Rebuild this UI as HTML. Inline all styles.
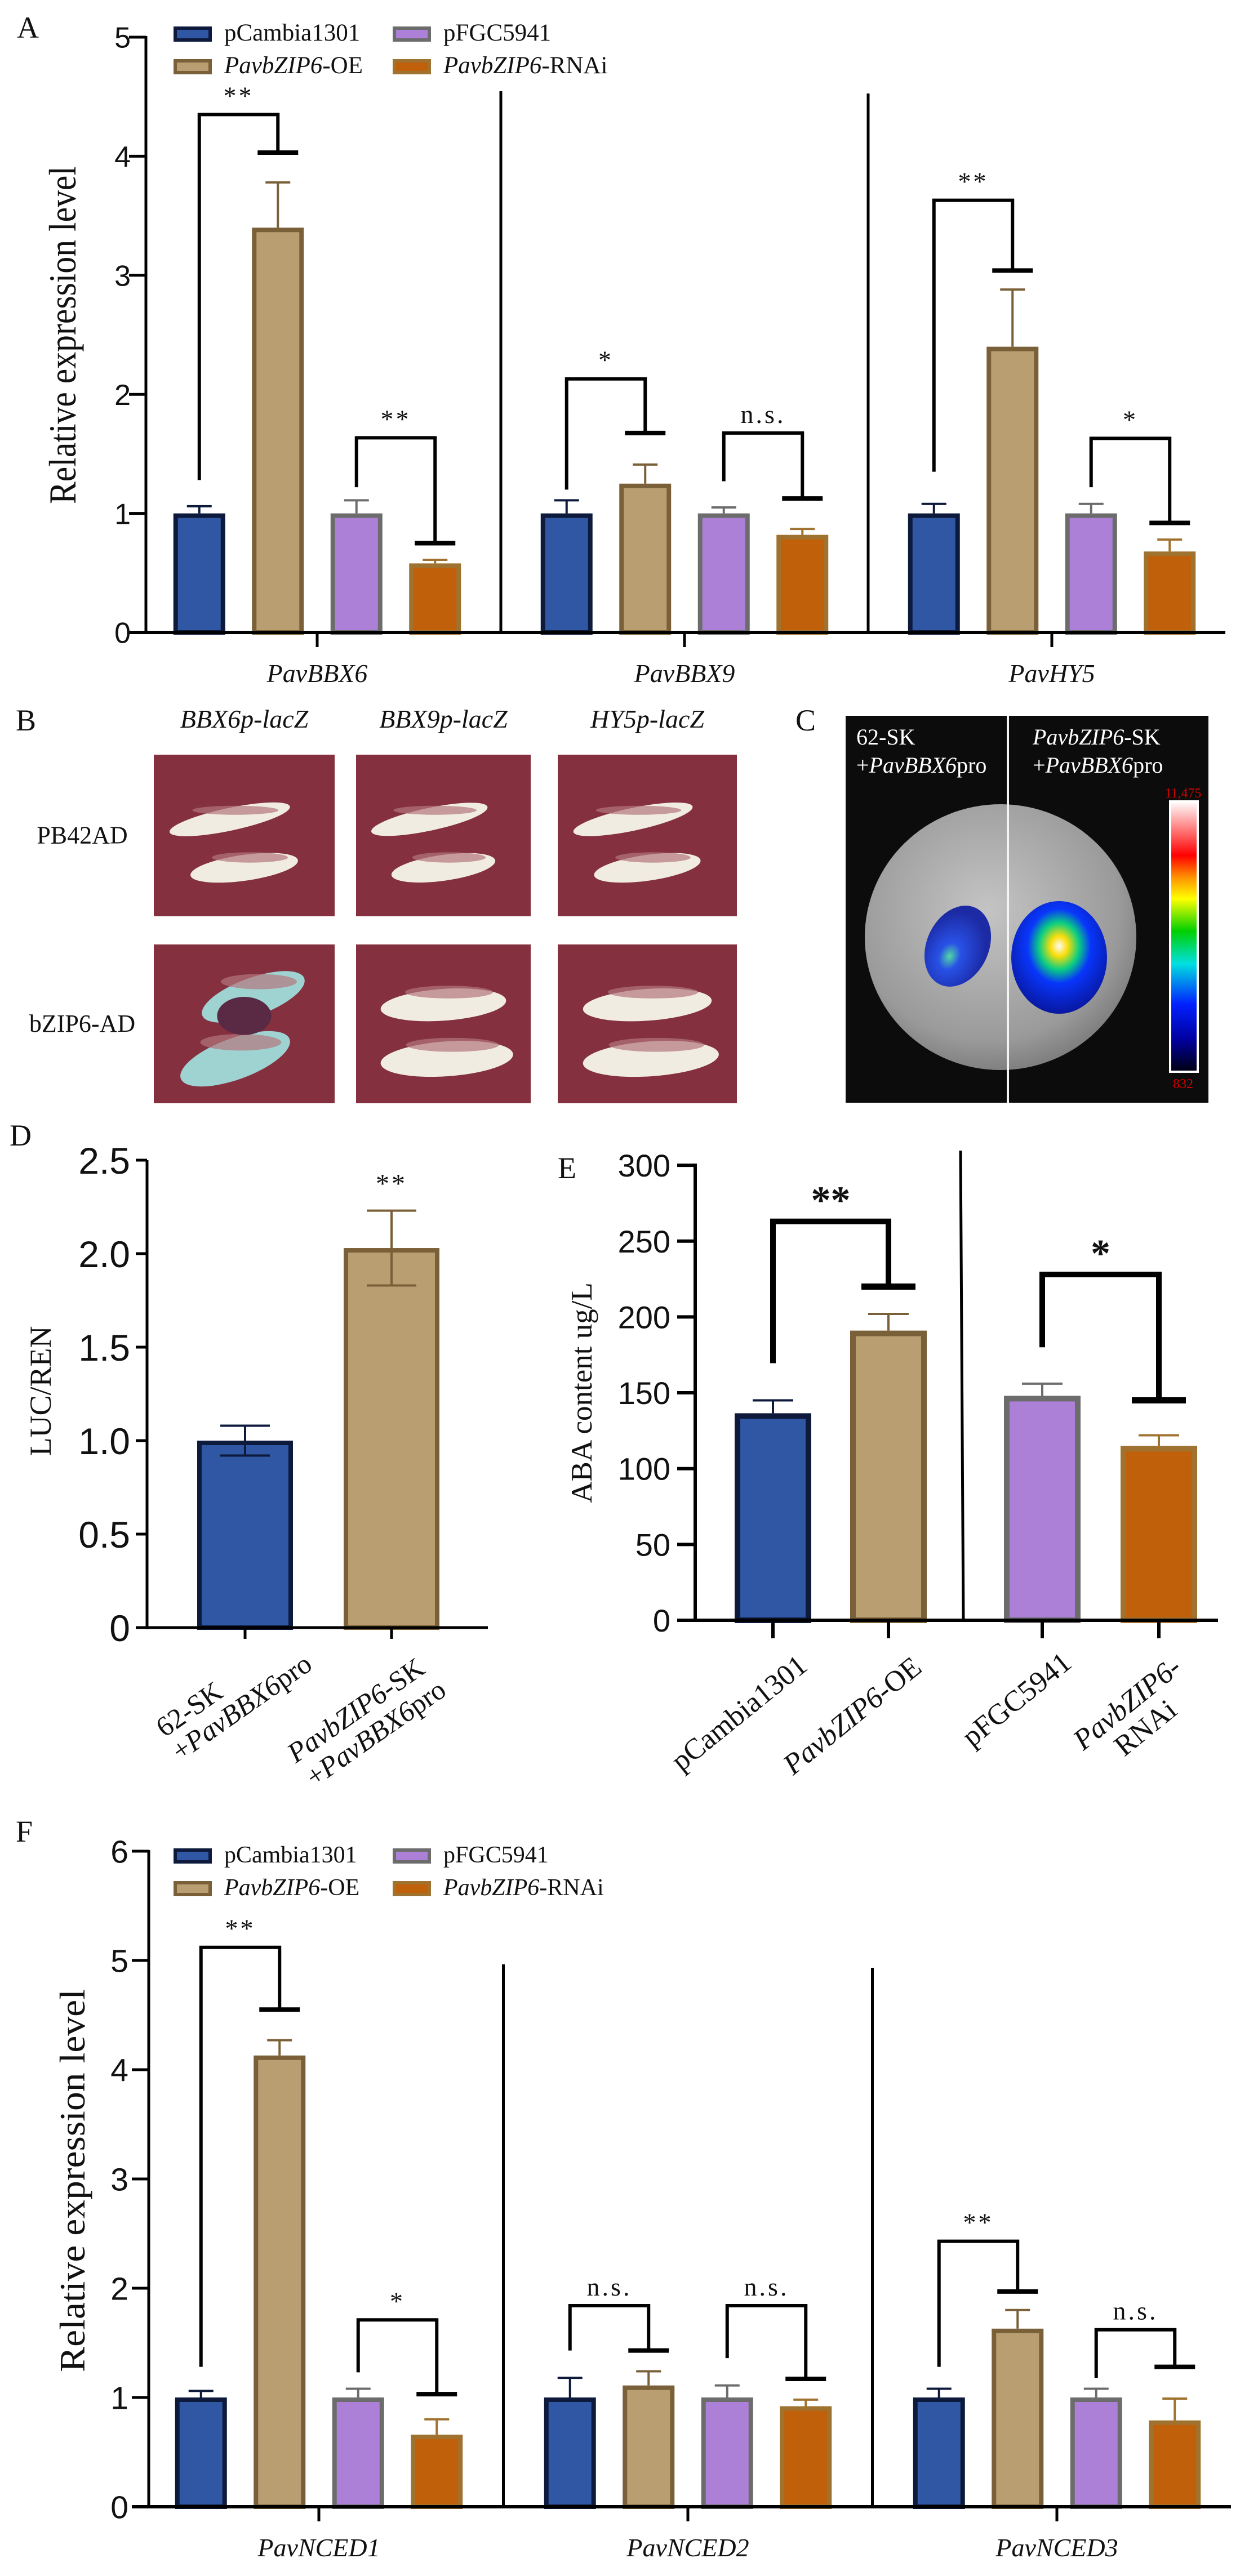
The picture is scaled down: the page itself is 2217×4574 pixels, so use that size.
<!DOCTYPE html>
<html><head><meta charset="utf-8"><style>
html,body{margin:0;padding:0;background:#fff;}
svg{display:block;}
text{font-family:"Liberation Serif",serif;}
.sans{font-family:"Liberation Sans",sans-serif;}
</style></head><body>
<svg id="fig" width="2217" height="4574" viewBox="0 0 2217 4574" xmlns="http://www.w3.org/2000/svg">
<defs>
<linearGradient id="cbar" x1="0" y1="1" x2="0" y2="0">
<stop offset="0" stop-color="#000010"/><stop offset="0.12" stop-color="#0000a0"/><stop offset="0.25" stop-color="#0020ff"/><stop offset="0.4" stop-color="#00e0e0"/><stop offset="0.52" stop-color="#00d000"/><stop offset="0.64" stop-color="#ffff00"/><stop offset="0.72" stop-color="#ff9000"/><stop offset="0.8" stop-color="#ff0000"/><stop offset="1" stop-color="#ffffff"/>
</linearGradient>
<radialGradient id="leafg" cx="0.45" cy="0.4" r="0.7"><stop offset="0" stop-color="#c4c4c4"/><stop offset="0.7" stop-color="#9a9a9a"/><stop offset="1" stop-color="#6a6a6a"/></radialGradient>
<radialGradient id="lucR" cx="0.5" cy="0.4" r="0.6"><stop offset="0" stop-color="#ffffff"/><stop offset="0.15" stop-color="#ffe000"/><stop offset="0.35" stop-color="#00d080"/><stop offset="0.55" stop-color="#0030ff"/><stop offset="1" stop-color="#0010a0"/></radialGradient>
<radialGradient id="lucL" cx="0.45" cy="0.65" r="0.55"><stop offset="0" stop-color="#40e0a0"/><stop offset="0.3" stop-color="#1040f0"/><stop offset="1" stop-color="#0010a0"/></radialGradient>
</defs>
<g id="root"></g>
</svg>
<script>
// ---------- DATA: panel A ----------
const genesA = ['PavBBX6','PavBBX9','PavHY5'];
const a_pc = [1, 1, 1];
const a_pc_err = [0.06, 0.11, 0.08];
const a_oe = [3.4, 1.25, 2.4];
const a_oe_err = [0.38, 0.16, 0.48];
const a_fg = [1, 1, 1];
const a_fg_err = [0.11, 0.05, 0.08];
const a_ri = [0.58, 0.82, 0.68];
const a_ri_err = [0.03, 0.05, 0.1];
const a_sig1 = ['**', '*', '**'];
const a_sig1_top = [4.35, 2.13, 3.63];
const a_sig1_cap = [4.03, 1.675, 3.04];
const a_sig1_low = [1.28, 1.2, 1.35];
const a_sig2 = ['**', 'n.s.', '*'];
const a_sig2_top = [1.635, 1.675, 1.63];
const a_sig2_cap = [0.75, 1.125, 0.92];
const a_sig2_low = [1.22, 1.27, 1.22];
const a_ticks = [0, 1, 2, 3, 4, 5];
// ---------- DATA: panel D ----------
const d_cats = ['62-SK', 'PavbZIP6-SK'];
const d_vals = [1.0, 2.03];
const d_err = [0.08, 0.2];
const d_sig = ['', '**'];
const d_ticks = ['0','0.5','1.0','1.5','2.0','2.5'];
const d_tickv = [0, 0.5, 1, 1.5, 2, 2.5];
// ---------- DATA: panel E ----------
const e_cats = ['pCambia1301', 'PavbZIP6-OE', 'pFGC5941', 'PavbZIP6-RNAi'];
const e_vals = [136.5, 191, 148, 115];
const e_err = [8.5, 11, 8, 7];
const e_sig = ['**', '*'];
const e_sig_top = [263, 228];
const e_sig_cap = [220, 145];
const e_sig_low = [169.5, 180];
const e_ticks = [0, 50, 100, 150, 200, 250, 300];
// ---------- DATA: panel F ----------
const genesF = ['PavNCED1','PavNCED2','PavNCED3'];
const f_pc = [1, 1, 1];
const f_pc_err = [0.06, 0.18, 0.08];
const f_oe = [4.13, 1.11, 1.63];
const f_oe_err = [0.14, 0.13, 0.17];
const f_fg = [1, 1, 1];
const f_fg_err = [0.08, 0.11, 0.08];
const f_ri = [0.66, 0.92, 0.79];
const f_ri_err = [0.14, 0.06, 0.2];
const f_sig1 = ['**', 'n.s.', '**'];
const f_sig1_top = [5.12, 1.84, 2.43];
const f_sig1_cap = [4.55, 1.43, 1.97];
const f_sig1_low = [1.28, 1.43, 1.28];
const f_sig2 = ['*', 'n.s.', 'n.s.'];
const f_sig2_top = [1.71, 1.84, 1.62];
const f_sig2_cap = [1.03, 1.17, 1.28];
const f_sig2_low = [1.23, 1.36, 1.18];
const f_ticks = [0, 1, 2, 3, 4, 5, 6];

const NS = 'http://www.w3.org/2000/svg';
const root = document.getElementById('root');
function mk(tag, attrs, parent) {
  const e = document.createElementNS(NS, tag);
  for (const k in attrs) e.setAttribute(k, attrs[k]);
  (parent || root).appendChild(e);
  return e;
}
function txt(str, attrs, parent) { const t = mk('text', attrs, parent); t.textContent = str; return t; }
const FILL = ['#2f57a3', '#b89e70', '#ad80d8', '#c0600a'];
const EDGE = ['#0e1a3c', '#7a6038', '#6c6c6c', '#a07230'];
const SERIES = ['pCambia1301', 'PavbZIP6-OE', 'pFGC5941', 'PavbZIP6-RNAi'];

function italicLabel(parent, x, y, parts, attrs) {
  const t = mk('text', attrs, parent);
  t.setAttribute('x', x); t.setAttribute('y', y);
  parts.forEach(p => { const s = mk('tspan', p[1] ? {'font-style':'italic'} : {}, t); s.textContent = p[0]; });
  return t;
}

function legend(y0, fs) {
  const g = mk('g', {});
  
  
  const pos = [[308, y0], [308, y0 + 58], [697, y0], [697, y0 + 58]];
  const lbl = [[['pCambia1301',0]], [['PavbZIP6',1],['-OE',0]], [['pFGC5941',0]], [['PavbZIP6',1],['-RNAi',0]]];
  for (let s = 0; s < 4; s++) {
    const r = mk('rect', {x: pos[s][0] + 3, y: pos[s][1] + 3, width: 62, height: 21, fill: FILL[s], stroke: EDGE[s], 'stroke-width': 6}, g);
    
    
    const t = italicLabel(g, pos[s][0] + 90, pos[s][1] + 25, lbl[s], {'font-size': fs, fill: '#111'});
    
    
  }
}

function groupedChart(cfg) {
  const g = mk('g', {});
  
  
  const y = v => cfg.y0 - v * cfg.unit;
  const gx = i => cfg.g0 + i * cfg.gstep;
  const bx = (i, s) => gx(i) + (s - 1.5) * 139.5;
  const series = [cfg.pc, cfg.oe, cfg.fg, cfg.ri];
  const errs = [cfg.pc_err, cfg.oe_err, cfg.fg_err, cfg.ri_err];
  for (let i = 1; i < cfg.genes.length; i++) {
    const xs = (gx(i - 1) + gx(i)) / 2;
    const l = mk('line', {x1: xs, x2: xs, y1: cfg.sepTop[i - 1], y2: cfg.y0, stroke: '#000', 'stroke-width': 5}, g);
    
    
  }
  for (let i = 0; i < cfg.genes.length; i++) {
    for (let s = 0; s < 4; s++) {
      const cx = bx(i, s), v = series[s][i], e = errs[s][i];
      const el = mk('line', {x1: cx, x2: cx, y1: y(v), y2: y(v + e), stroke: EDGE[s], 'stroke-width': 4}, g);
      
      
      const ec = mk('line', {x1: cx - 22, x2: cx + 22, y1: y(v + e), y2: y(v + e), stroke: EDGE[s], 'stroke-width': 4}, g);
      
      
      const r = mk('rect', {x: cx - 42, y: y(v) + 4, width: 84, height: Math.max(0, cfg.y0 - y(v) - 4), fill: FILL[s], stroke: EDGE[s], 'stroke-width': 8}, g);
      
      
    }
    const pairs = [[0, 1, cfg.s1, cfg.s1_top, cfg.s1_cap, cfg.s1_low], [2, 3, cfg.s2, cfg.s2_top, cfg.s2_cap, cfg.s2_low]];
    pairs.forEach(p => {
      const xa = bx(i, p[0]), xb = bx(i, p[1]);
      const pl = mk('polyline', {points: `${xa},${y(p[5][i])} ${xa},${y(p[3][i])} ${xb},${y(p[3][i])} ${xb},${y(p[4][i])}`, fill: 'none', stroke: '#000', 'stroke-width': 6}, g);
      
      
      const cap = mk('line', {x1: xb - 36, x2: xb + 36, y1: y(p[4][i]), y2: y(p[4][i]), stroke: '#000', 'stroke-width': 8}, g);
      
      
      const st = txt(p[2][i], {x: (xa + xb) / 2, y: y(p[3][i]) - 18, 'text-anchor': 'middle', 'font-size': 46, fill: '#111', 'letter-spacing': 4}, g);
      
      
    });
    const tk = mk('line', {x1: gx(i), x2: gx(i), y1: cfg.y0, y2: cfg.y0 + 26, stroke: '#000', 'stroke-width': 5}, g);
    
    
    const gl = txt(cfg.genes[i], {x: gx(i), y: cfg.y0 + 88, 'text-anchor': 'middle', 'font-size': 46, 'font-style': 'italic', fill: '#111'}, g);
    
    
  }
  const ya = mk('line', {x1: cfg.ax, x2: cfg.ax, y1: y(cfg.ticks[cfg.ticks.length - 1]) - 2, y2: cfg.y0 + 3, stroke: '#000', 'stroke-width': 5}, g);
  
  
  const xa = mk('line', {x1: cfg.ax - 30, x2: cfg.xEnd, y1: cfg.y0, y2: cfg.y0, stroke: '#000', 'stroke-width': 6}, g);
  
  
  cfg.ticks.forEach(t => {
    const tl = mk('line', {x1: cfg.ax - 30, x2: cfg.ax, y1: y(t), y2: y(t), stroke: '#000', 'stroke-width': 5}, g);
    
    
    const tt = txt(String(t), {x: cfg.ax - cfg.tickGap, y: y(t) + cfg.tickFs * 0.36, 'text-anchor': 'end', 'font-size': cfg.tickFs, class: 'sans', fill: '#111'}, g);
    
    
  });
  const yt = txt('Relative expression level', {x: 0, y: 0, 'text-anchor': 'middle', 'font-size': cfg.titleFs, textLength: cfg.titleLen, lengthAdjust: 'spacingAndGlyphs', fill: '#111', transform: `translate(${cfg.titleX},${cfg.titleY}) rotate(-90)`}, g);
  
  
}

[['A', 30, 67], ['B', 28, 1297], ['C', 1412, 1297], ['D', 17, 2034], ['E', 990, 2092], ['F', 28, 3270]].forEach(p => {
  const t = txt(p[0], {x: p[1], y: p[2], 'font-size': 54, fill: '#111'});
  
  
});

// Panel A
legend(47, 43);
groupedChart({name: 'panel-a-chart', genes: genesA, pc: a_pc, pc_err: a_pc_err, oe: a_oe, oe_err: a_oe_err, fg: a_fg, fg_err: a_fg_err, ri: a_ri, ri_err: a_ri_err,
  s1: a_sig1, s1_top: a_sig1_top, s1_cap: a_sig1_cap, s1_low: a_sig1_low, s2: a_sig2, s2_top: a_sig2_top, s2_cap: a_sig2_cap, s2_low: a_sig2_low,
  ticks: a_ticks, y0: 1123, unit: 211.4, g0: 563, gstep: 652, ax: 259, xEnd: 2175, sepTop: [162, 166],
  tickFs: 52, tickGap: 27, titleFs: 68, titleLen: 600, titleX: 134, titleY: 595});

// Panel B photos
const bCols = [[273, 594], [632, 942], [990, 1308]];
const bRows = [[1340, 1627], [1677, 1959]];
const bHeads = ['BBX6p-lacZ', 'BBX9p-lacZ', 'HY5p-lacZ'];
bHeads.forEach((h, i) => {
  const t = txt(h, {x: (bCols[i][0] + bCols[i][1]) / 2, y: 1292, 'text-anchor': 'middle', 'font-size': 46, 'font-style': 'italic', fill: '#111'});
  
  
});
['PB42AD', 'bZIP6-AD'].forEach((h, i) => {
  const t = txt(h, {x: 146, y: (bRows[i][0] + bRows[i][1]) / 2 + 14, 'text-anchor': 'middle', 'font-size': 44, fill: '#111'});
  
  
});
for (let r = 0; r < 2; r++) for (let c = 0; c < 3; c++) {
  const x0 = bCols[c][0], x1 = bCols[c][1], y0 = bRows[r][0], y1 = bRows[r][1];
  const w = x1 - x0, h = y1 - y0;
  const g = mk('g', {});
  
  
  mk('rect', {x: x0, y: y0, width: w, height: h, fill: '#84303f'}, g);
  const blue = (r === 1 && c === 0);
  const col = blue ? '#9fd3d2' : '#f1ece2';
  let blobs;
  if (r === 0) blobs = [[0.42, 0.4, 0.34, 0.07, -12], [0.5, 0.7, 0.3, 0.08, -8]];
  else blobs = [[0.5, 0.38, 0.36, 0.1, -4], [0.52, 0.72, 0.38, 0.11, -4]];
  if (blue) blobs = [[0.55, 0.33, 0.3, 0.12, -20], [0.45, 0.72, 0.32, 0.13, -20]];
  blobs.forEach(b => {
    mk('ellipse', {cx: x0 + b[0] * w, cy: y0 + b[1] * h, rx: b[2] * w, ry: b[3] * h, fill: col, transform: `rotate(${b[4]} ${x0 + b[0] * w} ${y0 + b[1] * h})`}, g);
    mk('ellipse', {cx: x0 + b[0] * w + 10, cy: y0 + b[1] * h - b[3] * h * 0.8, rx: b[2] * w * 0.7, ry: b[3] * h * 0.4, fill: '#b4767e', opacity: 0.7}, g);
  });
  if (blue) mk('ellipse', {cx: x0 + 0.5 * w, cy: y0 + 0.45 * h, rx: 0.15 * w, ry: 0.12 * h, fill: '#5a2a44'}, g);
}

// Panel C
(function () {
  const g = mk('g', {});
  
  
  mk('rect', {x: 1501, y: 1271, width: 644, height: 687, fill: '#0c0c0c'}, g);
  mk('ellipse', {cx: 1776, cy: 1664, rx: 241, ry: 236, fill: 'url(#leafg)'}, g);
  mk('ellipse', {cx: 1700, cy: 1680, rx: 55, ry: 75, fill: 'url(#lucL)', opacity: 0.85, transform: 'rotate(25 1700 1680)'}, g);
  mk('ellipse', {cx: 1880, cy: 1700, rx: 85, ry: 100, fill: 'url(#lucR)', opacity: 0.95}, g);
  mk('line', {x1: 1789, x2: 1789, y1: 1271, y2: 1958, stroke: '#f4f4f4', 'stroke-width': 4}, g);
  mk('rect', {x: 2077, y: 1423, width: 49, height: 480, fill: 'url(#cbar)', stroke: '#fff', 'stroke-width': 4}, g);
  const t1 = txt('11,475', {x: 2100, y: 1416, 'text-anchor': 'middle', 'font-size': 24, fill: '#d00000'}, g);
  
  
  const t2 = txt('832', {x: 2100, y: 1932, 'text-anchor': 'middle', 'font-size': 24, fill: '#d00000'}, g);
  
  
  const a1 = txt('62-SK', {x: 1520, y: 1322, 'font-size': 40, fill: '#fff'}, g);
  
  
  const a2 = italicLabel(g, 1520, 1372, [['+', 0], ['PavBBX6', 1], ['pro', 0]], {'font-size': 40, fill: '#fff'});
  
  
  const a3 = italicLabel(g, 1833, 1322, [['PavbZIP6', 1], ['-SK', 0]], {'font-size': 40, fill: '#fff'});
  
  
  const a4 = italicLabel(g, 1833, 1372, [['+', 0], ['PavBBX6', 1], ['pro', 0]], {'font-size': 40, fill: '#fff'});
  
  
})();

// Panel D
(function () {
  const g = mk('g', {});
  
  
  const y0 = 2890, unit = 332, ax = 261;
  const y = v => y0 - v * unit;
  const xs = [435, 695];
  d_vals.forEach((v, i) => {
    const e = d_err[i], cx = xs[i];
    const r = mk('rect', {x: cx - 81, y: y(v) + 4, width: 162, height: y0 - y(v) - 4, fill: FILL[i], stroke: EDGE[i], 'stroke-width': 8}, g);
    
    
    const l = mk('line', {x1: cx, x2: cx, y1: y(v - e), y2: y(v + e), stroke: EDGE[i], 'stroke-width': 4}, g);
    
    
    [v - e, v + e].forEach(ev => {
      const c = mk('line', {x1: cx - 44, x2: cx + 44, y1: y(ev), y2: y(ev), stroke: EDGE[i], 'stroke-width': 4}, g);
      
      
    });
    if (d_sig[i]) {
      const st = txt(d_sig[i], {x: cx, y: y(v + e) - 32, 'text-anchor': 'middle', 'font-size': 48, fill: '#111', 'letter-spacing': 4}, g);
      
      
    }
    const tk = mk('line', {x1: cx, x2: cx, y1: y0, y2: y0 + 20, stroke: '#000', 'stroke-width': 5}, g);
    
    
  });
  const dl = [
    [[['62-SK', 0]], 399, 3011], [[['+', 0], ['PavBBX6', 1], ['pro', 0]], 557, 2962],
    [[['PavbZIP6', 1], ['-SK', 0]], 757, 2969], [[['+', 0], ['PavBBX6', 1], ['pro', 0]], 795, 3008]
  ];
  dl.forEach(d => {
    const t = italicLabel(g, 0, 0, d[0], {'font-size': 50, fill: '#111', 'text-anchor': 'end', transform: `translate(${d[1]},${d[2]}) rotate(-35)`});
    
    
  });
  const ya = mk('line', {x1: ax, x2: ax, y1: y(2.5), y2: y0 + 3, stroke: '#000', 'stroke-width': 5}, g);
  
  
  const xa = mk('line', {x1: ax - 20, x2: 866, y1: y0, y2: y0, stroke: '#000', 'stroke-width': 5}, g);
  
  
  d_tickv.forEach((t, k) => {
    const tl = mk('line', {x1: ax - 20, x2: ax, y1: y(t), y2: y(t), stroke: '#000', 'stroke-width': 5}, g);
    
    
    const tt = txt(d_ticks[k], {x: ax - 30, y: y(t) + 24, 'text-anchor': 'end', 'font-size': 66, class: 'sans', fill: '#111'}, g);
    
    
  });
  const yt = txt('LUC/REN', {x: 0, y: 0, 'text-anchor': 'middle', 'font-size': 54, fill: '#111', transform: 'translate(90,2470) rotate(-90)'}, g);
  
  
})();

// Panel E
(function () {
  const g = mk('g', {});
  
  
  const y0 = 2877, k = 2.693, ax = 1234;
  const y = v => y0 - v * k;
  const xs = [1372, 1577, 1850, 2057];
  const sep = mk('line', {x1: 1705, x2: 1710, y1: 2043, y2: y0, stroke: '#000', 'stroke-width': 5}, g);
  
  
  e_vals.forEach((v, i) => {
    const e = e_err[i], cx = xs[i];
    const l = mk('line', {x1: cx, x2: cx, y1: y(v), y2: y(v + e), stroke: EDGE[i], 'stroke-width': 4}, g);
    
    
    const c = mk('line', {x1: cx - 36, x2: cx + 36, y1: y(v + e), y2: y(v + e), stroke: EDGE[i], 'stroke-width': 4}, g);
    
    
    const r = mk('rect', {x: cx - 63, y: y(v) + 5, width: 126, height: y0 - y(v) - 5, fill: FILL[i], stroke: EDGE[i], 'stroke-width': 10}, g);
    
    
    const tk = mk('line', {x1: cx, x2: cx, y1: y0, y2: y0 + 32, stroke: '#000', 'stroke-width': 6}, g);
    
    
  });
  const el = [
    [[['pCambia1301', 0]], 1436, 2963], [[['PavbZIP6', 1], ['-OE', 0]], 1639, 2966],
    [[['pFGC5941', 0]], 1905, 2958], [[['PavbZIP6', 1], ['-', 0]], 2100, 2966], [[['RNAi', 0]], 2092, 3042]
  ];
  el.forEach(d => {
    const t = italicLabel(g, 0, 0, d[0], {'font-size': 52, fill: '#111', 'text-anchor': 'end', transform: `translate(${d[1]},${d[2]}) rotate(-39)`});
    
    
  });
  for (let p = 0; p < 2; p++) {
    const xa = xs[p * 2], xb = xs[p * 2 + 1];
    const pl = mk('polyline', {points: `${xa},${y(e_sig_low[p])} ${xa},${y(e_sig_top[p])} ${xb},${y(e_sig_top[p])} ${xb},${y(e_sig_cap[p])}`, fill: 'none', stroke: '#000', 'stroke-width': 10}, g);
    
    
    const cap = mk('line', {x1: xb - 48, x2: xb + 48, y1: y(e_sig_cap[p]), y2: y(e_sig_cap[p]), stroke: '#000', 'stroke-width': 11}, g);
    
    
    const st = txt(e_sig[p], {x: (xa + xb) / 2, y: y(e_sig_top[p]) - 14, 'text-anchor': 'middle', 'font-size': 70, 'font-weight': 'bold', fill: '#111'}, g);
    
    
  }
  const ya = mk('line', {x1: ax, x2: ax, y1: y(300) - 3, y2: y0 + 3, stroke: '#000', 'stroke-width': 6}, g);
  
  
  const xa = mk('line', {x1: ax - 32, x2: 2162, y1: y0, y2: y0, stroke: '#000', 'stroke-width': 6}, g);
  
  
  e_ticks.forEach(t => {
    const tl = mk('line', {x1: ax - 32, x2: ax, y1: y(t), y2: y(t), stroke: '#000', 'stroke-width': 6}, g);
    
    
    const tt = txt(String(t), {x: ax - 44, y: y(t) + 20, 'text-anchor': 'end', 'font-size': 56, class: 'sans', fill: '#111'}, g);
    
    
  });
  const yt = txt('ABA content ug/L', {x: 0, y: 0, 'text-anchor': 'middle', 'font-size': 53, fill: '#111', transform: 'translate(1050,2473) rotate(-90)'}, g);
  
  
})();

// Panel F
legend(3282, 42);
groupedChart({name: 'panel-f-chart', genes: genesF, pc: f_pc, pc_err: f_pc_err, oe: f_oe, oe_err: f_oe_err, fg: f_fg, fg_err: f_fg_err, ri: f_ri, ri_err: f_ri_err,
  s1: f_sig1, s1_top: f_sig1_top, s1_cap: f_sig1_cap, s1_low: f_sig1_low, s2: f_sig2, s2_top: f_sig2_top, s2_cap: f_sig2_cap, s2_low: f_sig2_low,
  ticks: f_ticks, y0: 4451, unit: 194, g0: 566, gstep: 655, ax: 264, xEnd: 2185, sepTop: [3488, 3494],
  tickFs: 57, tickGap: 36, titleFs: 64, titleLen: 680, titleX: 150, titleY: 3872});
</script>
</body></html>
